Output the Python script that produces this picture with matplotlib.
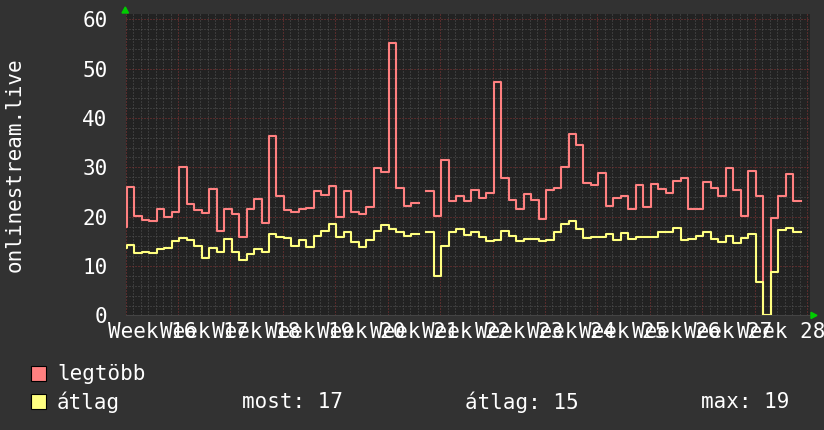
import numpy as np
import matplotlib
matplotlib.use("Agg")
from matplotlib import pyplot as plt
from matplotlib.patches import Rectangle, Polygon

# daily values, first one is a short partial bin
legtobb = [17.9, 26.1, 20.2, 19.3, 19.2, 21.5, 20.0, 21.0, 30.1, 22.5,
           21.3, 20.7, 25.6, 17.1, 21.5, 20.5, 15.9, 21.5, 23.6, 18.8,
           36.3, 24.2, 21.3, 21.0, 21.5, 21.7, 25.2, 24.4, 26.2, 20.0,
           25.2, 21.0, 20.5, 22.0, 29.9, 29.1, 55.2, 25.8, 22.2, 22.8,
           np.nan, 25.2, 20.2, 31.4, 23.1, 24.2, 23.2, 25.4, 23.8, 24.8,
           47.3, 27.9, 23.4, 21.5, 24.6, 23.4, 19.5, 25.4, 25.8, 30.0,
           36.7, 34.5, 26.9, 26.5, 28.9, 22.2, 23.8, 24.2, 21.5, 26.4,
           22.0, 26.7, 25.7, 24.8, 27.3, 27.9, 21.5, 21.5, 27.1, 25.9,
           24.2, 29.9, 25.4, 20.2, 29.3, 24.2, 0.0, 19.8, 24.2, 28.6,
           23.2]
atlag = [13.6, 14.3, 12.6, 12.9, 12.7, 13.4, 13.7, 15.0, 15.6, 15.3,
         14.1, 11.7, 13.6, 12.8, 15.4, 12.9, 11.3, 12.4, 13.4, 12.9,
         16.5, 15.9, 15.7, 14.1, 15.3, 13.8, 16.1, 17.1, 18.5, 15.8,
         16.8, 14.9, 13.8, 15.3, 17.1, 18.4, 17.5, 16.8, 16.1, 16.4,
         np.nan, 16.8, 8.0, 14.1, 16.9, 17.6, 16.3, 16.9, 15.9, 15.1,
         15.3, 17.1, 16.1, 15.1, 15.5, 15.5, 15.1, 15.3, 16.9, 18.6,
         19.2, 17.5, 15.6, 15.9, 15.9, 16.4, 15.3, 16.6, 15.4, 15.9,
         15.9, 15.9, 16.9, 16.8, 17.7, 15.3, 15.5, 16.1, 16.9, 15.5,
         14.9, 16.1, 14.7, 15.6, 16.4, 6.8, 0.0, 8.8, 17.3, 17.7,
         16.8]
weeks = ["Week %d" % w for w in range(16, 29)]
yticks = [0, 10, 20, 30, 40, 50, 60]

BG = "#323232"
CANVAS = "#222222"
FONT = "DejaVu Sans Mono"
FS = 15

def step_xy(vals, offset=0.15):
    edges = np.concatenate([[0.0], np.arange(len(vals)) + offset])
    y = np.append(np.array(vals, dtype=float), vals[-1])
    return edges, y

W, H = 824, 430
fig = plt.figure(figsize=(W / 100, H / 100), dpi=100, facecolor=BG)
x0, x1, ytop, ybot = 125.6, 810.0, 14.3, 315.4
ax = fig.add_axes([x0 / W, 1 - ybot / H, (x1 - x0) / W, (ybot - ytop) / H])
ax.set_facecolor(CANVAS)
xmax = (x1 - x0) / 7.488
ax.set_xlim(0, xmax)
ax.set_ylim(0, 61)

# rrdtool style dotted grid
dot = (0, (1, 2))
minor_days = [d for d in range(92) if d % 7]
ax.vlines(minor_days, 0, 61, colors="#555555", lw=0.72, linestyles=dot, zorder=1)
ax.hlines([v for v in range(0, 61, 2) if v % 10], 0, xmax, colors="#555555",
          lw=0.72, linestyles=dot, zorder=1)
ax.vlines(np.arange(0, 92, 7), 0, 61, colors="#8a3636", lw=0.72, linestyles=dot, zorder=2)
ax.hlines(yticks, 0, xmax, colors="#8a3636", lw=0.72, linestyles=dot, zorder=2)

x, y = step_xy(legtobb)
ax.step(x, y, where="post", color="#ff8080", lw=1.5, zorder=3)
x, y = step_xy(atlag)
ax.step(x, y, where="post", color="#ffff80", lw=1.5, zorder=4)

ax.set_xticks(np.arange(13) * 7 + 3.5, weeks)
ax.set_yticks(yticks, [str(v) for v in yticks])
ax.tick_params(axis="x", length=0, pad=4.5, colors="white", labelsize=FS)
ax.tick_params(axis="y", length=0, pad=13, colors="white", labelsize=FS)
for lab in ax.get_xticklabels() + ax.get_yticklabels():
    lab.set_family(FONT)
for s in ["top", "right", "left"]:
    ax.spines[s].set_visible(False)
ax.spines["bottom"].set_color("#444444")

fig.text(14.5 / W, 1 - 165 / H, "onlinestream.live", rotation=90, ha="center",
         va="center", color="white", family=FONT, fontsize=FS)

# arrows
def fpt(px, py):
    return (px / W, 1 - py / H)
fig.add_artist(Polygon([fpt(122, 13), fpt(128.5, 13), fpt(125.3, 7)], closed=True,
                       color="#00cc00", transform=fig.transFigure))
fig.add_artist(Polygon([fpt(811, 312.3), fpt(811, 318.5), fpt(817, 315.4)], closed=True,
                       color="#00cc00", transform=fig.transFigure))

# legend
for py, col, name in [(366, "#ff8080", "legtöbb"), (394, "#ffff80", "átlag")]:
    fig.add_artist(Rectangle(fpt(31.5, py + 15), 15 / W, 15 / H, facecolor=col,
                             edgecolor="black", lw=0.8, transform=fig.transFigure))
    fig.text(57 / W, 1 - (py + 8) / H, name, va="center", color="white",
             family=FONT, fontsize=FS)
for px, txt in [(242, "most: 17"), (465, "átlag: 15"), (701, "max: 19")]:
    fig.text(px / W, 1 - 402 / H, txt, va="center", color="white",
             family=FONT, fontsize=FS)

fig.savefig("out.png", dpi=100, facecolor=BG)
